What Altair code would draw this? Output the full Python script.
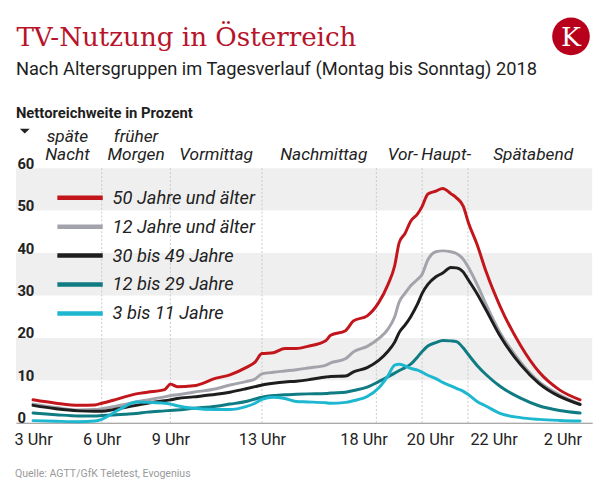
import altair as alt
import pandas as pd

# ---------------- data ----------------
hours = [3.0, 4.0, 5.0, 5.7, 6.0, 6.5, 7.0, 7.5, 8.0, 8.75, 9.0, 9.3, 10.0, 11.0, 11.6,
         12.3, 12.7, 13.0, 13.5, 14.0, 14.5, 15.0, 15.8, 16.0, 16.65, 17.0, 17.6, 18.1,
         18.5, 18.8, 19.0, 19.25, 19.5, 19.8, 20.0, 20.25, 20.6, 20.9, 21.25, 21.5, 21.8,
         22.0, 22.4, 22.8, 23.4, 24.3, 25.1, 26.0, 26.9]

s50 = [5.4, 4.6, 4.1, 4.2, 4.6, 5.3, 6.1, 6.8, 7.2, 7.8, 9.1, 8.5, 8.7, 10.5, 11.3,
       13.0, 14.3, 16.3, 16.5, 17.5, 17.5, 18.0, 19.4, 20.6, 21.7, 24.0, 25.2, 28.3,
       32.5, 37.0, 42.5, 44.6, 47.5, 49.2, 51.0, 53.9, 54.6, 55.2, 54.0, 53.0, 51.0,
       47.5, 42.0, 35.5, 27.5, 18.2, 12.0, 7.75, 5.4]
s12 = [4.4, 3.6, 3.0, 3.1, 3.3, 3.8, 4.3, 4.9, 5.4, 6.1, 6.4, 6.6, 7.2, 8.0, 8.9,
       9.7, 10.3, 11.5, 11.9, 12.2, 12.5, 12.9, 13.6, 14.1, 15.1, 16.7, 18.0, 19.8,
       22.0, 25.0, 28.5, 30.5, 32.3, 33.8, 35.0, 38.4, 40.3, 40.5, 40.3, 39.9, 38.5,
       36.8, 32.6, 27.8, 21.3, 14.3, 9.7, 6.6, 4.4]
s30 = [4.1, 3.3, 2.8, 2.7, 2.7, 3.1, 3.6, 4.1, 4.6, 5.2, 5.4, 5.7, 6.1, 6.7, 7.2,
       8.0, 8.5, 8.9, 9.3, 9.6, 9.8, 10.1, 10.8, 10.9, 11.0, 12.0, 13.0, 14.7,
       16.8, 19.0, 21.3, 23.0, 25.0, 28.0, 30.5, 32.6, 34.4, 35.3, 36.6, 36.5, 35.5,
       33.8, 30.4, 26.5, 20.5, 13.7, 9.3, 6.2, 4.3]
s1229 = [2.3, 1.9, 1.6, 1.6, 1.7, 1.8, 2.0, 2.2, 2.5, 2.8, 2.9, 3.0, 3.4, 3.9, 4.4,
         5.0, 5.6, 6.0, 6.4, 6.6, 6.7, 6.8, 6.9, 7.0, 7.2, 7.6, 8.4, 9.7,
         10.8, 11.7, 12.3, 13.0, 13.8, 15.5, 16.8, 18.1, 18.9, 19.4, 19.3, 19.1, 17.6,
         16.2, 13.5, 11.3, 8.6, 5.8, 4.0, 2.9, 2.3]
s311 = [0.5, 0.35, 0.25, 0.4, 0.8, 2.3, 3.8, 4.9, 4.8, 4.6, 4.4, 4.0, 3.4, 3.1, 3.1,
        3.8, 4.6, 5.5, 6.0, 5.7, 5.0, 4.9, 4.7, 4.6, 4.8, 5.2, 6.2, 8.2,
        11.0, 13.6, 13.8, 13.4, 12.8, 12.4, 11.9, 11.2, 10.4, 9.5, 8.7, 8.1, 7.4,
        6.7, 5.0, 3.9, 2.2, 1.2, 0.8, 0.55, 0.4]

series_names = ["50 Jahre und älter", "12 Jahre und älter", "30 bis 49 Jahre",
                "12 bis 29 Jahre", "3 bis 11 Jahre"]
series_colors = ["#c3161c", "#a3a4ab", "#1e1e1e", "#0f7b82", "#1db7d0"]
series_values = [s50, s12, s30, s1229, s311]
draw_order = [1, 0, 2, 3, 4]

band_lo = [10, 30, 50]
band_hi = [20, 40, 60]
y_ticks = [0, 10, 20, 30, 40, 50, 60]
x_ticks = [3, 6, 9, 13, 18, 20, 22, 26]
boundaries = [6, 9, 13, 18, 20, 22]
segment_pos = [4.5, 7.5, 11.0, 15.7, 19.15, 21.05, 24.85]
segment_top = ["späte", "früher", "", "", "", "", ""]
segment_bottom = ["Nacht", "Morgen", "Vormittag", "Nachmittag", "Vor-", "Haupt-", "Spätabend"]

title_text = "TV-Nutzung in Österreich"
subtitle_text = "Nach Altersgruppen im Tagesverlauf (Montag bis Sonntag) 2018"
ytitle_text = "Nettoreichweite in Prozent"
source_text = "Quelle: AGTT/GfK Teletest, Evogenius"
logo_text = "K"

# ---------------- tables ----------------
rows = []
for k in draw_order:
    for h, v in zip(hours, series_values[k]):
        rows.append({"hour": h, "value": v, "series": series_names[k]})
lines_df = pd.DataFrame(rows)
bands_df = pd.DataFrame({"lo": band_lo, "hi": band_hi})
bounds_df = pd.DataFrame({"hour": boundaries})
seg_df = pd.DataFrame({"hour": segment_pos, "top": segment_top, "bottom": segment_bottom})
one = pd.DataFrame({"a": [0]})

W, H = 584, 258
x_scale = alt.Scale(domain=[2.25, 27.43], nice=False, zero=False)
y_scale = alt.Scale(domain=[0, 60], nice=False, zero=False)

y_axis = alt.Axis(values=y_ticks, title=None, domain=False, ticks=False, tickSize=0, grid=False,
                  labelAlign="left", labelBaseline="alphabetic", labelPadding=-1,
                  labelFont="Roboto", labelFontWeight="bold", labelFontSize=15,
                  labelColor="#222222", labelOverlap=False, labelFlush=False, zindex=1)
x_axis = alt.Axis(values=x_ticks, title=None, domain=True, domainColor="#8a8a8a", domainWidth=1,
                  ticks=False, tickSize=0, grid=False,
                  labelExpr="(datum.value > 24 ? datum.value - 24 : datum.value) + ' Uhr'",
                  labelFont="Roboto", labelFontSize=16.5, labelColor="#222222",
                  labelBaseline="alphabetic", labelPadding=22, labelOverlap=False, labelFlush=False,
                  labelOffset={"condition": [{"test": "datum.value == 18", "value": -13},
                                             {"test": "datum.value == 20", "value": 8},
                                             {"test": "datum.value == 22", "value": 26},
                                             {"test": "datum.value == 26", "value": 3}],
                               "value": 0})

X = alt.X("hour:Q", scale=x_scale, axis=x_axis)

bands = alt.Chart(bands_df).mark_rect(color="#efefef").encode(
    x=alt.value(0), x2=alt.value(W),
    y=alt.Y("lo:Q", scale=y_scale, axis=y_axis), y2="hi:Q")

rules = alt.Chart(bounds_df).mark_rule(color="#c9c9c9", strokeDash=[2, 2], strokeWidth=1).encode(
    x=X, y=alt.value(0), y2=alt.value(H))

lines = alt.Chart(lines_df).mark_line(strokeWidth=3, interpolate="monotone",
                                      strokeJoin="round", strokeCap="round").encode(
    x=X,
    y=alt.Y("value:Q", scale=y_scale, axis=y_axis),
    color=alt.Color("series:N",
                    scale=alt.Scale(domain=series_names, range=series_colors),
                    legend=alt.Legend(title=None, orient="none", legendX=50, legendY=15,
                                      direction="vertical", symbolType="M-1.84,0H1.84",
                                      symbolSize=625, symbolStrokeWidth=4.5,
                                      labelFont="Roboto", labelFontSize=18.5,
                                      labelFontStyle="italic", labelColor="#222222",
                                      labelOffset=18, rowPadding=4.3, padding=0,
                                      labelLimit=0)))

seg_top_layer = alt.Chart(seg_df).mark_text(font="Roboto", fontSize=17.5, fontStyle="italic",
                                            color="#222222", baseline="alphabetic").encode(
    x=X, y=alt.value(-27), text="top:N")
seg_bot_layer = alt.Chart(seg_df).mark_text(font="Roboto", fontSize=17.5, fontStyle="italic",
                                            color="#222222", baseline="alphabetic").encode(
    x=X, y=alt.value(-8), text="bottom:N")

title = alt.Chart(pd.DataFrame({"t": [title_text]})).mark_text(
    align="left", baseline="alphabetic", font="DejaVu Serif", fontSize=26.5, color="#b7142b").encode(
    x=alt.value(0.5), y=alt.value(-124), text="t:N")
subtitle = alt.Chart(pd.DataFrame({"t": [subtitle_text]})).mark_text(
    align="left", baseline="alphabetic", font="Roboto", fontSize=18.5, color="#1e1e1e").encode(
    x=alt.value(0), y=alt.value(-94), text="t:N")
ytitle = alt.Chart(pd.DataFrame({"t": [ytitle_text]})).mark_text(
    align="left", baseline="alphabetic", font="Roboto", fontSize=15, fontWeight="bold",
    color="#1e1e1e").encode(x=alt.value(0), y=alt.value(-51), text="t:N")
triangle = alt.Chart(one).mark_point(shape="M-1,-0.5L1,-0.5L0,0.5Z", size=100, filled=True,
                                     color="#222222", opacity=1).encode(
    x=alt.value(9), y=alt.value(-37.5))
source = alt.Chart(pd.DataFrame({"t": [source_text]})).mark_text(
    align="left", baseline="alphabetic", font="Roboto", fontSize=10.7,
    color="#9a9a9a").encode(x=alt.value(-1), y=alt.value(313), text="t:N")
logo = alt.Chart(one).mark_circle(size=1452, color="#b8001d", opacity=1).encode(
    x=alt.value(562.5), y=alt.value(-133.5))
logo_k = alt.Chart(pd.DataFrame({"t": [logo_text]})).mark_text(
    align="center", baseline="alphabetic", font="DejaVu Serif", fontSize=27, color="#ffffff").encode(
    x=alt.value(562.5), y=alt.value(-124), text="t:N")

chart = alt.layer(bands, rules, lines, seg_top_layer, seg_bot_layer, title, subtitle, ytitle,
                  triangle, source, logo, logo_k).properties(
    width=W, height=H,
    autosize=alt.AutoSizeParams(type="none"),
    padding={"left": 8, "top": 159, "right": 16, "bottom": 75},
    background="#ffffff",
).configure_view(stroke=None)

chart.save("out.html", embed_options={"renderer": "svg", "actions": False})
